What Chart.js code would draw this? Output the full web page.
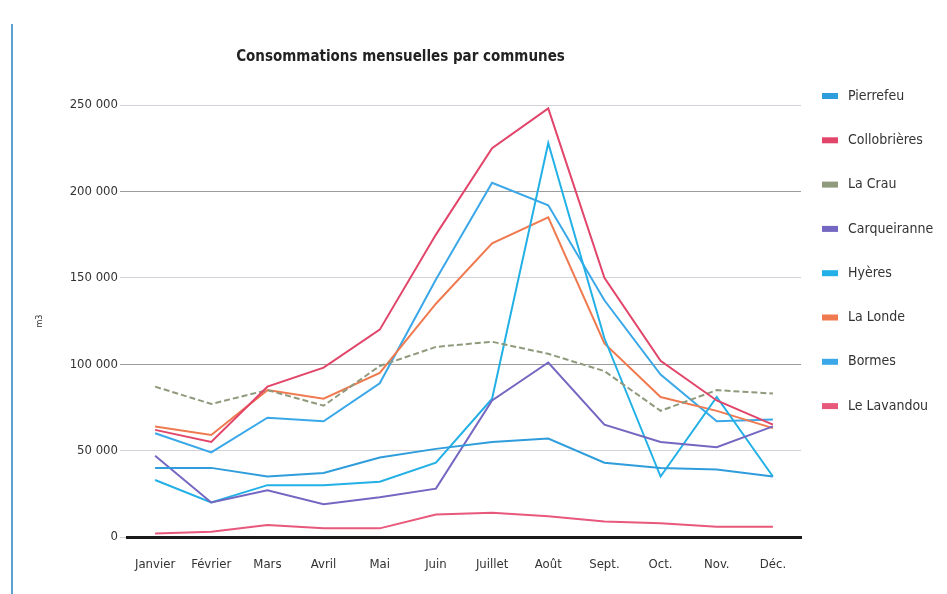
<!DOCTYPE html>
<html>
<head>
<meta charset="utf-8">
<script src="https://cdn.jsdelivr.net/npm/chart.js@4.4.1/dist/chart.umd.min.js"></script>
<style>
  html, body { margin: 0; padding: 0; background: #fff; }
  #wrap { position: relative; width: 947px; height: 594px; }
  #edge { position: absolute; left: 11px; top: 24px; width: 2px; height: 570px; background: #5aa0d0; }
  canvas { position: absolute; left: 0; top: 0; }
</style>
</head>
<body>
<div id="wrap">
  <canvas id="chart" width="947" height="594"></canvas>
  <div id="edge"></div>
</div>
<script>
const FONT = '"Liberation Sans Narrow", "DejaVu Sans Condensed", "Arial Narrow", sans-serif';

const months = ['Janvier', 'Février', 'Mars', 'Avril', 'Mai', 'Juin', 'Juillet', 'Août', 'Sept.', 'Oct.', 'Nov.', 'Déc.'];

const pierrefeu    = [40000, 40000, 35000, 37000, 46000, 51000, 55000, 57000, 43000, 40000, 39000, 35000];
const collobrieres = [62000, 55000, 87000, 98000, 120000, 175000, 225000, 248000, 150000, 102000, 79000, 65000];
const laCrau       = [87000, 77000, 85000, 76000, 99000, 110000, 113000, 106000, 96000, 73000, 85000, 83000];
const carqueiranne = [47000, 20000, 27000, 19000, 23000, 28000, 79000, 101000, 65000, 55000, 52000, 64000];
const hyeres       = [33000, 20000, 30000, 30000, 32000, 43000, 80000, 228000, 115000, 35000, 81000, 35000];
const laLonde      = [64000, 59000, 85000, 80000, 95000, 135000, 170000, 185000, 112000, 81000, 73000, 63000];
const bormes       = [60000, 49000, 69000, 67000, 89000, 149000, 205000, 192000, 137000, 94000, 67000, 68000];
const leLavandou   = [2000, 3000, 7000, 5000, 5000, 13000, 14000, 12000, 9000, 8000, 6000, 6000];

const yTicks = [0, 50000, 100000, 150000, 200000, 250000];

function fmt(v) {
  return String(v).replace(/\B(?=(\d{3})+(?!\d))/g, ' ');
}

function line(label, data, color, dash) {
  return {
    label: label,
    data: data,
    borderColor: color,
    backgroundColor: color,
    borderWidth: 2,
    borderDash: dash || [],
    pointRadius: 0,
    tension: 0,
    fill: false
  };
}

// legend drawn at fixed spots on the right, like the original
const sideLegend = {
  id: 'sideLegend',
  afterDraw(chart) {
    const ctx = chart.ctx;
    ctx.save();
    ctx.font = '14px ' + FONT;
    ctx.textBaseline = 'middle';
    chart.data.datasets.forEach((ds, i) => {
      let y = 96 + i * 44.3;
      ctx.fillStyle = ds.borderColor;
      ctx.fillRect(822, y - 3, 16, 6);
      ctx.fillStyle = '#333';
      ctx.fillText(ds.label, 848, y);
    });
    ctx.restore();
  }
};

let ctx = document.getElementById('chart').getContext('2d');

let chart = new Chart(ctx, {
  type: 'line',
  data: {
    labels: months,
    datasets: [
      line('Pierrefeu', pierrefeu, '#2f9ddb'),
      line('Collobrières', collobrieres, '#e2456a'),
      line('La Crau', laCrau, '#8f9a7c', [6, 3]),
      line('Carqueiranne', carqueiranne, '#7367c2'),
      line('Hyères', hyeres, '#22b0e6'),
      line('La Londe', laLonde, '#f07a4f'),
      line('Bormes', bormes, '#3aa8e8'),
      line('Le Lavandou', leLavandou, '#e8587a')
    ]
  },
  options: {
    responsive: false,
    animation: false,
    layout: { padding: { left: 0, right: 146, top: 0, bottom: 0 } },
    plugins: {
      legend: { display: false },
      tooltip: { enabled: false },
      title: {
        display: true,
        text: 'Consommations mensuelles par communes',
        color: '#222',
        font: { family: FONT, size: 15, weight: 'bold' },
        padding: { top: 48, bottom: 39 }
      }
    },
    scales: {
      x: {
        offset: true,
        grid: { display: false, offset: true },
        border: { display: true, color: '#1a1a1a', width: 3 },
        ticks: { color: '#333', font: { family: FONT, size: 13 }, padding: 12, maxRotation: 0, autoSkip: false },
        afterFit: s => { s.height = 57; }
      },
      y: {
        min: 0,
        max: 250000,
        afterBuildTicks: s => { s.ticks = yTicks.map(v => ({ value: v })); },
        grid: {
          // the scan shows the 100 000 and 200 000 lines darker
          color: c => (c.tick && c.tick.value % 100000 === 0 && c.tick.value > 0) ? '#9c9c9c' : '#d2d2d8',
          lineWidth: 1,
          drawTicks: true,
          tickLength: 7
        },
        border: { display: false },
        ticks: { color: '#333', font: { family: FONT, size: 13 }, padding: 2, callback: v => fmt(v) },
        title: { display: true, text: 'm3', color: '#333', font: { family: FONT, size: 9 }, padding: { top: 34, bottom: 0 } },
        afterFit: s => { s.width = 127; }
      }
    }
  },
  plugins: [sideLegend]
});
</script>
</body>
</html>
